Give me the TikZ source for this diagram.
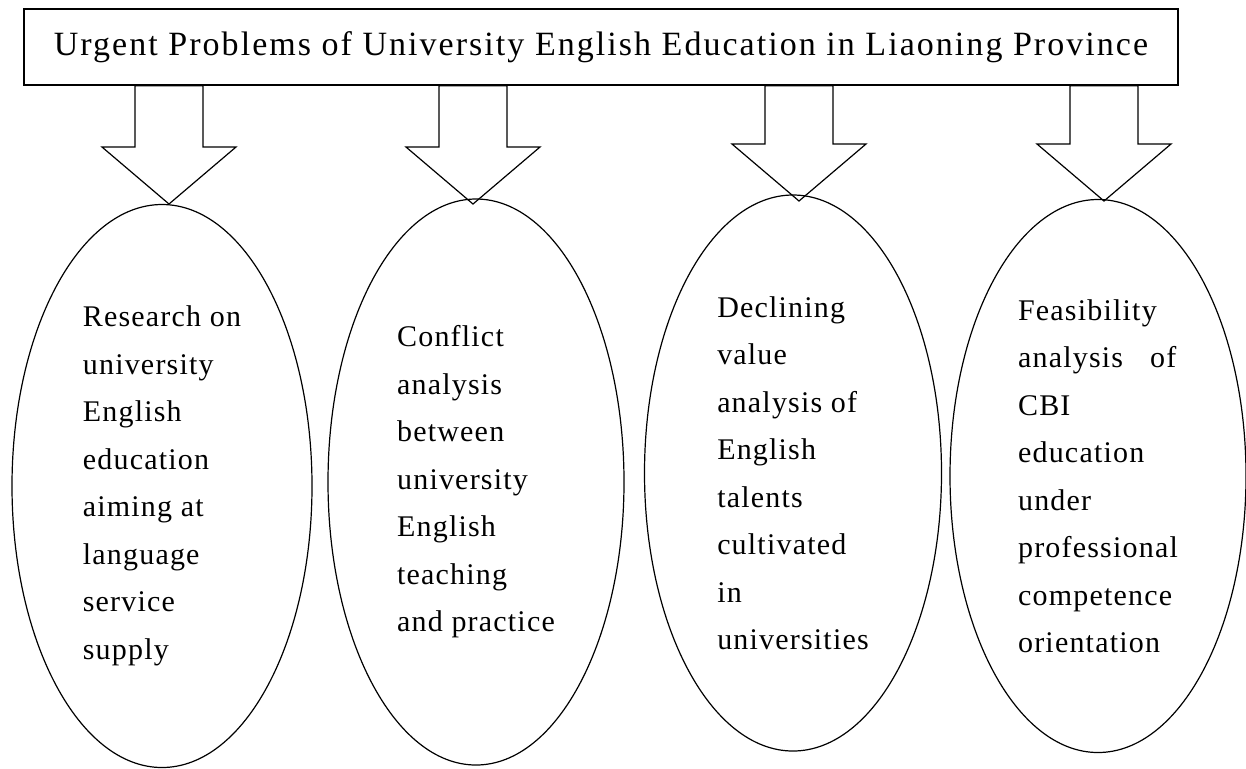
\documentclass[tikz,border=0pt]{standalone}
\usepackage{fontspec}
\setmainfont{Liberation Serif}[LetterSpace=4]
\newfontfamily\headfont{Liberation Serif}[LetterSpace=6]
\usetikzlibrary{calc, positioning, shapes}

\tikzset{
	oval/.style={draw, ellipse, inner sep=0pt, align=left, line width=.6pt,
		font=\fontsize{15}{23.75}\selectfont},
	hollow/.style={draw, line width=.6pt, line join=miter}
}

\begin{document}
\begin{tikzpicture}[x=.5pt, y=-.5pt]
		\useasboundingbox (0,0) rectangle (1246,768);
		% heading
		\node[draw, line width=.7pt, minimum width=577pt, minimum height=38pt, inner sep=0pt,
			font=\headfont\fontsize{17}{20}\selectfont] (title) at (601,47)
			{Urgent Problems of University English Education in Liaoning Province};
		
		\node[oval, minimum width=150pt, minimum height=281.5pt] (e1) at (162,486)
			{Research on\\university\\English\\education\\aiming at\\language\\service\\supply};
		\node[oval, minimum width=148pt, minimum height=283pt] (e2) at (476,482)
			{Conflict\\analysis\\between\\university\\English\\teaching\\and practice};
		\node[oval, minimum width=148.5pt, minimum height=278pt] (e3) at (793,473)
			{Declining\\value\\analysis of\\English\\talents\\cultivated\\in\\universities};
		\node[oval, minimum width=148pt, minimum height=276.5pt] (e4) at (1098,476)
			{Feasibility\\analysis\hspace{.9em}of\\CBI\\education\\under\\professional\\competence\\orientation};
		
		% arrow tips
		\coordinate (tip1) at (169,204);
		\coordinate (tip2) at (473,204);
		\coordinate (tip3) at (799,201);
		\coordinate (tip4) at (1104,201);
		\foreach \i in {1,...,4}
			\draw[hollow] (tip\i) -- ++(-67,-57) -- ++(33,0) |- (title.south -| tip\i)
				-| ($(tip\i)+(34,-57)$) -- ++(33,0) -- cycle;
		
	\end{tikzpicture}
\end{document}
